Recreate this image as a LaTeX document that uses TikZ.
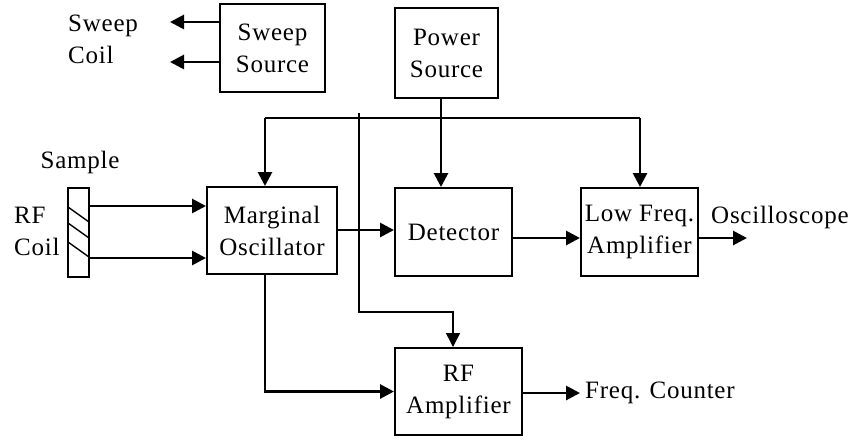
\documentclass[tikz,border=0pt]{standalone}
\usepackage{fontspec}
\setmainfont{Liberation Serif}[LetterSpace=3]
\usetikzlibrary{arrows.meta}
\begin{document}
\begin{tikzpicture}[x=1pt,y=-1pt,
  box/.style={draw=black,line width=2pt,rectangle,inner sep=0pt,align=center,
     font=\fontsize{25}{32}\selectfont},
  lbl/.style={inner sep=0pt,align=left,font=\fontsize{25}{32}\selectfont},
  conn/.style={line width=2.8pt},
  arr/.style={line width=2.8pt,-{Triangle[length=14pt,width=14pt]}},
  thinarr/.style={line width=1.5pt,-{Triangle[length=14pt,width=14pt]}}]
\fill[white] (0,0) rectangle (851,440);
\useasboundingbox (0,0) rectangle (851,440);
% boxes
\node[box,minimum width=105pt,minimum height=88pt] (sweep) at (272.5,48) {Sweep\\Source};
\node[box,minimum width=103pt,minimum height=90pt] (power) at (446.5,53) {Power\\Source};
\node[box,minimum width=130pt,minimum height=87pt] (marg) at (272,230.5) {Marginal\\Oscillator};
\node[box,minimum width=117pt,minimum height=88pt] (det) at (453.5,232) {Detector};
\node[box,minimum width=117pt,minimum height=88pt] (lowf) at (639.5,232) {Low Freq.\\Amplifier};
\node[box,minimum width=127pt,minimum height=87pt] (rfamp) at (458.5,391.5) {RF\\Amplifier};
\node[draw=black,line width=1.8pt,minimum width=21pt,minimum height=89pt,inner sep=0pt] (sample) at (78.5,232.5) {};
% hatch
\draw[line width=1.4pt] (68,207) -- (89,222) (68,223) -- (89,238) (68,242) -- (89,257);
% labels
\node[lbl,anchor=west] (sweepcoil) at (68,39) {Sweep\\Coil};
\node[lbl] (samplelbl) at (80,162) {Sample};
\node[lbl,anchor=west] (rfcoil) at (14,231) {RF\\Coil};
\node[lbl,anchor=base west] (osc) at (711,223) {Oscilloscope};
\node[lbl,anchor=west] (freq) at (585,393) {Freq. Counter};
% coordinates
\coordinate (bL) at (265,118);
\coordinate (bM) at (441,118);
\coordinate (bR) at (640,118);
\coordinate (t1) at (359,113);
\coordinate (t2) at (359,312);
\coordinate (t3) at (453,312);
\coordinate (sw1) at (170,22);
\coordinate (sw2) at (170,62);
\coordinate (oscend) at (747,238);
\coordinate (freqend) at (580,393);
% connectors
\draw[arr] (sweep.west |- sw1) -- (sw1);
\draw[arr] (sweep.west |- sw2) -- (sw2);
\draw[conn] (bL) -- (bR);
\draw[arr] (power.south -| bM) -- (det.north -| bM);
\draw[arr] (bL) -- (marg.north -| bL);
\draw[arr] (bR) -- (lowf.north -| bR);
\draw[thinarr] (t1) -- (t2) -- (t3) -- (rfamp.north -| t3);
\draw[arr] (sample.east |- 0,206) -- (marg.west |- 0,206);
\draw[arr] (sample.east |- 0,258) -- (marg.west |- 0,258);
\draw[arr] (marg.east |- 0,230) -- (det.west |- 0,230);
\draw[arr] (det.east |- 0,238) -- (lowf.west |- 0,238);
\draw[arr] (lowf.east |- oscend) -- (oscend);
\draw[arr] (marg.south -| bL) |- (rfamp.west);
\draw[arr] (rfamp.east |- freqend) -- (freqend);
\end{tikzpicture}
\end{document}
